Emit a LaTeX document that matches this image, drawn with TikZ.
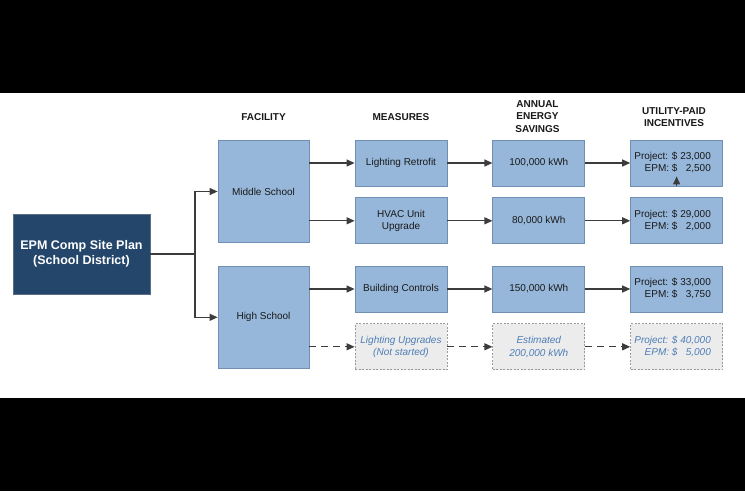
\documentclass[tikz,border=0pt]{standalone}
\usepackage{fontspec}
\setmainfont{Liberation Sans}
\usetikzlibrary{positioning, arrows.meta}
\definecolor{plannavy}{HTML}{24466B}
\definecolor{planedge}{HTML}{5A6F86}
\definecolor{boxblue}{HTML}{96B7DA}
\definecolor{boxedge}{HTML}{6F8FB3}
\definecolor{pendfill}{HTML}{ECECEC}
\definecolor{pendedge}{HTML}{9A9A9A}
\definecolor{pendtext}{HTML}{4D7DB5}
\definecolor{linkgray}{HTML}{3C3C3C}

\tikzset{
    planbox/.style={
        draw=planedge,
        fill=plannavy,
        rectangle,
        line width=0.8pt,
        minimum width=137pt,
        minimum height=80pt,
        text=white,
        font=\fontsize{12.5}{15}\selectfont\bfseries,
        align=center,
    },
    facilitybox/.style={
        draw=boxedge,
        fill=boxblue,
        rectangle,
        line width=0.8pt,
        minimum width=91pt,
        minimum height=102pt,
        font=\fontsize{10}{12.5}\selectfont,
        text=black!90,
        align=center,
    },
    stepbox/.style={
        draw=boxedge,
        fill=boxblue,
        rectangle,
        line width=0.8pt,
        minimum width=92pt,
        minimum height=46pt,
        inner sep=2pt,
        font=\fontsize{10}{12.5}\selectfont,
        text=black!90,
        align=center,
    },
    pendingbox/.style={
        stepbox,
        draw=pendedge,
        fill=pendfill,
        dash pattern=on 2pt off 1.5pt,
        text=pendtext,
        font=\fontsize{10}{12.5}\selectfont\itshape,
    },
    header/.style={
        font=\fontsize{10}{12.5}\selectfont\bfseries,
        align=center,
        text=black!90,
    },
}

\newcommand{\incentive}[2]{%
    \begin{tabular}{@{}r@{ }l@{\ }r@{}}
        Project: & \$ & #1 \\
        EPM: & \$ & #2
    \end{tabular}\hspace*{8pt}}

\begin{document}
\begin{tikzpicture}[x=1pt, y=-1pt]
\fill [black] (0,0) rectangle (745,491);
\fill [white] (0,93) rectangle (745,398);
\useasboundingbox (0,0) rectangle (745,491);

% --- site plan ---
\node [
    planbox,
] (plan) at (81.5,254) {EPM Comp Site Plan\\(School District)};

% --- facilities ---
\node [
    facilitybox,
] (middle) at (263.5,191.5) {Middle School};

\node [
    facilitybox,
    below=23pt of middle,
] (high) {High School};

% --- measures ---
\node [
    stepbox,
] (lighting) at (401,163) {Lighting Retrofit};

\node [
    stepbox,
    below=11pt of lighting,
] (hvac) {HVAC Unit\\Upgrade};

\node [
    stepbox,
] (controls) at (401,289) {Building Controls};

\node [
    pendingbox,
    below=11pt of controls,
] (upgrades) {Lighting Upgrades\\(Not started)};

% --- energy savings ---
\node [
    stepbox,
    right=45pt of lighting,
] (lightingkwh) {100,000 kWh};

\node [
    stepbox,
    right=45pt of hvac,
] (hvackwh) {80,000 kWh};

\node [
    stepbox,
    right=45pt of controls,
] (controlskwh) {150,000 kWh};

\node [
    pendingbox,
    right=45pt of upgrades,
] (upgradeskwh) {Estimated\\200,000 kWh};

% --- incentives ---
\node [
    stepbox,
    right=45pt of lightingkwh,
] (lightingpaid) {\incentive{23,000}{2,500}};

\node [
    stepbox,
    right=45pt of hvackwh,
] (hvacpaid) {\incentive{29,000}{2,000}};

\node [
    stepbox,
    right=45pt of controlskwh,
] (controlspaid) {\incentive{33,000}{3,750}};

\node [
    pendingbox,
    right=45pt of upgradeskwh,
] (upgradespaid) {\incentive{40,000}{5,000}};

% --- column headers ---
\node [header] (facilityhead) at (263.5,117) {FACILITY};
\node [header] (measurehead) at (401,117) {MEASURES};
\node [header] (savinghead) at (537.5,116.5) {ANNUAL\\ENERGY\\SAVINGS};
\node [header] (paidhead) at (674,117) {UTILITY-PAID\\INCENTIVES};

\coordinate (split) at (195,254);
\coordinate (nudge) at ([yshift=10pt]lightingpaid.south);

% --- connections ---
\begin{scope}[->, >={Triangle[length=8pt, width=7pt]}, line width=1.2pt, draw=linkgray]
\draw [-] (plan.east) -- (split);
\draw [->] (split) |- (middle.west);
\draw [->] (split) |- (high.west);

\draw [->] (middle.east |- lighting.west) -- (lighting.west);
\draw [->] (middle.east |- hvac.west) -- (hvac.west);
\draw [->] (high.east |- controls.west) -- (controls.west);
\draw [->, dash pattern=on 7pt off 5pt] (high.east |- upgrades.west) -- (upgrades.west);

\draw [->] (lighting.east) -- (lightingkwh.west);
\draw [->] (hvac.east) -- (hvackwh.west);
\draw [->] (controls.east) -- (controlskwh.west);
\draw [->, dash pattern=on 7pt off 5pt] (upgrades.east) -- (upgradeskwh.west);

\draw [->] (lightingkwh.east) -- (lightingpaid.west);
\draw [->] (hvackwh.east) -- (hvacpaid.west);
\draw [->] (controlskwh.east) -- (controlspaid.west);
\draw [->, dash pattern=on 7pt off 5pt] (upgradeskwh.east) -- (upgradespaid.west);

\draw [->] (lightingpaid.south) -- (nudge);
\end{scope}

\end{tikzpicture}
\end{document}
